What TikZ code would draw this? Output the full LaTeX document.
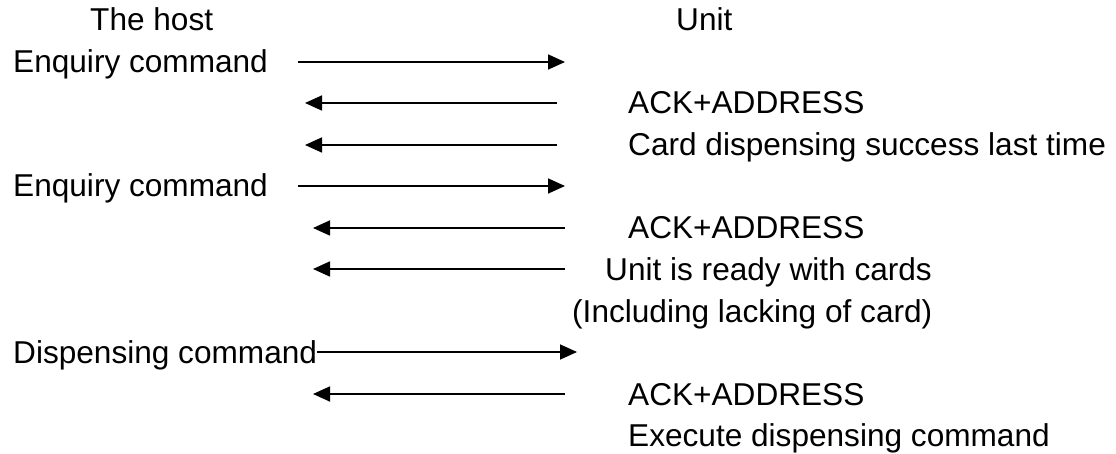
\documentclass[tikz,border=0pt]{standalone}
\usepackage{fontspec}
\setmainfont{Liberation Sans}
\usetikzlibrary{arrows.meta}
\begin{document}
\begin{tikzpicture}[x=1pt,y=-1pt,
  lbl/.style={anchor=base west, inner sep=0pt, font=\fontsize{31.6}{36}\selectfont},
  msg/.style={line width=1.7pt, -{Triangle[length=17pt,width=15pt]}}]
\useasboundingbox (0,0) rectangle (1116,454);
% headers
\node[lbl] (host) at (90,31) {The host};
\node[lbl] (unit) at (676,31) {Unit};
% row 1
\node[lbl] (enq1) at (13,73) {Enquiry command};
\coordinate (a1s) at (298,62); \coordinate (a1e) at (565,62);
\draw[msg] (a1s) -- (a1e);
% row 2
\coordinate (a2s) at (557,103); \coordinate (a2e) at (305,103);
\draw[msg] (a2s) -- (a2e);
\node[lbl] (ack1) at (628,114) {ACK+ADDRESS};
% row 3
\coordinate (a3s) at (557,145); \coordinate (a3e) at (305,145);
\draw[msg] (a3s) -- (a3e);
\node[lbl] (card) at (628,156) {Card dispensing success last time};
% row 4
\node[lbl] (enq2) at (13,197) {Enquiry command};
\coordinate (a4s) at (298,186); \coordinate (a4e) at (565,186);
\draw[msg] (a4s) -- (a4e);
% row 5
\coordinate (a5s) at (565,228); \coordinate (a5e) at (313,228);
\draw[msg] (a5s) -- (a5e);
\node[lbl] (ack2) at (628,239) {ACK+ADDRESS};
% row 6
\coordinate (a6s) at (565,269); \coordinate (a6e) at (313,269);
\draw[msg] (a6s) -- (a6e);
\node[lbl] (ready) at (605,280) {Unit is ready with cards};
% row 7
\node[lbl] (incl) at (572,322) {(Including lacking of card)};
% row 8
\node[lbl] (disp) at (13,363) {Dispensing command};
\coordinate (a8s) at (disp.east |- 0,352); \coordinate (a8e) at (577,352);
\draw[msg] (a8s) -- (a8e);
% row 9
\coordinate (a9s) at (565,394); \coordinate (a9e) at (313,394);
\draw[msg] (a9s) -- (a9e);
\node[lbl] (ack3) at (628,405) {ACK+ADDRESS};
% row 10
\node[lbl] (exec) at (628,446) {Execute dispensing command};
\end{tikzpicture}
\end{document}
